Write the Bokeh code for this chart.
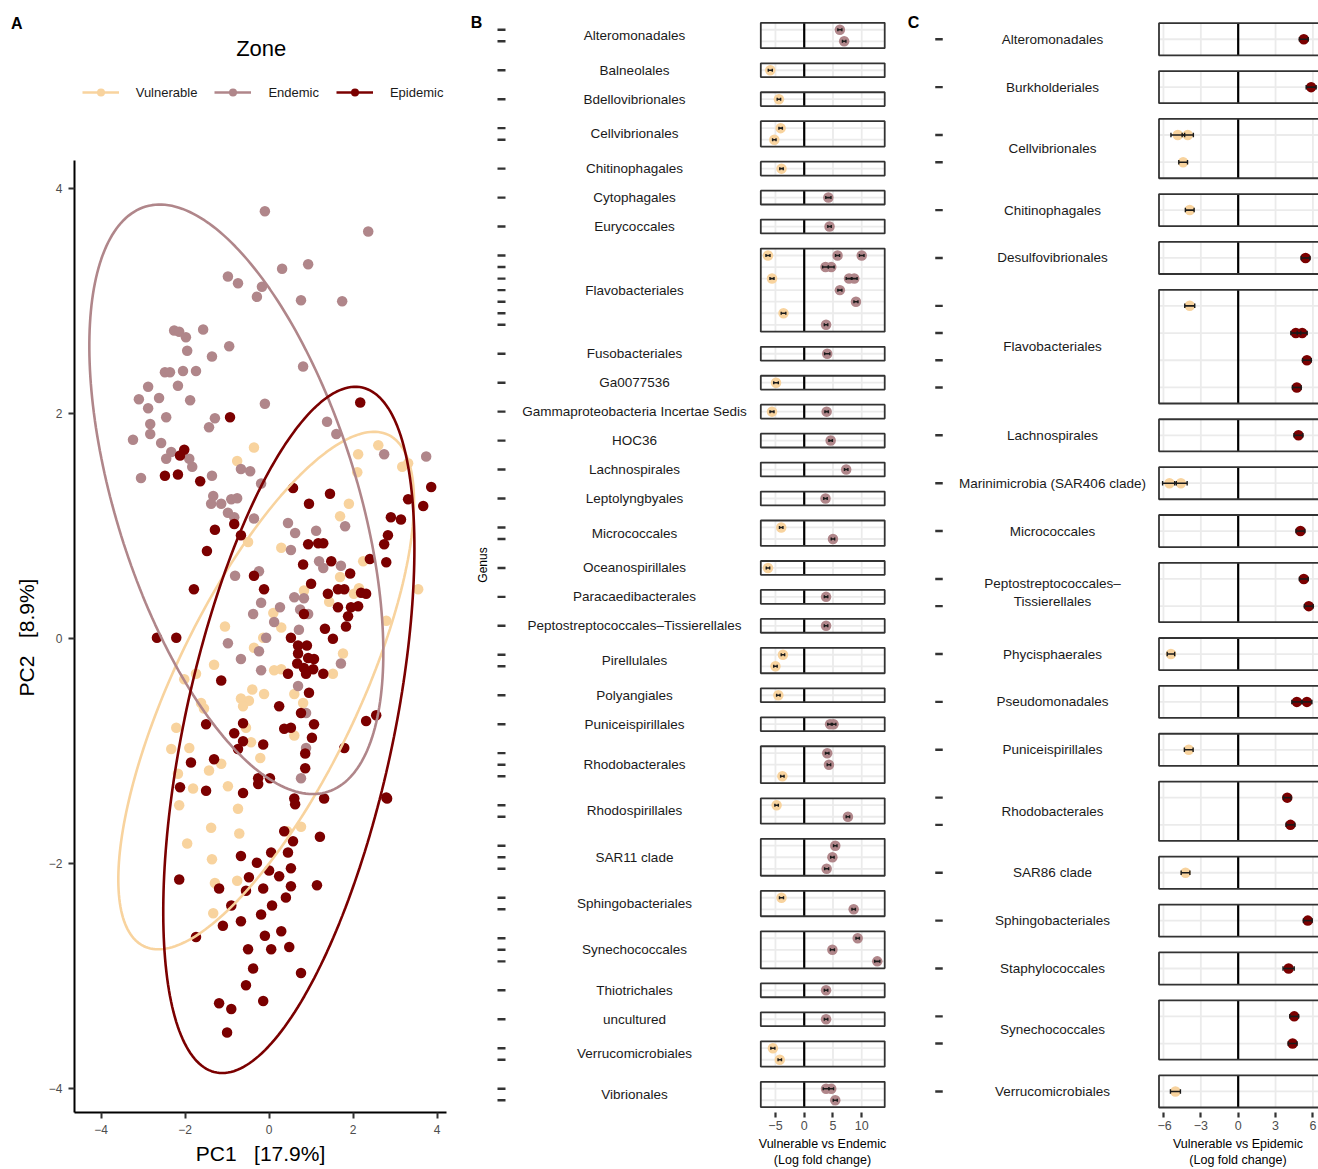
import numpy as np
from bokeh.plotting import figure
from bokeh.models import Range1d, FixedTicker, Label, Legend, LegendItem, ColumnDataSource
from bokeh.layouts import row
from bokeh.embed import file_html
from bokeh.resources import INLINE
from bokeh.core.properties import value

FONT = "Liberation Sans"
ZONES = ["Vulnerable", "Endemic", "Epidemic"]
ZONE_COLORS = {"Vulnerable": "#F8D39E", "Endemic": "#B0868A", "Epidemic": "#7B0000"}
NBSP3 = "\u00a0\u00a0\u00a0"

# ---------------- Panel A data (PCA scores) ----------------
vul_pc1 = [-0.36, -0.76, 2.12, 2.60, 2.10, 3.17, 3.31, 1.90, 1.69, -0.50, 0.29, 2.24, 1.69, 3.55, 2.14, 2.02,
           1.43, 0.83, 2.79, 0.10, 0.29, -1.05, -0.14, -0.36, 1.76, 1.52, -1.31, -2.02, -1.74, 0.12, 0.29,
           -0.40, -0.12, 0.60, -0.67, -0.48, -1.62, -1.55, -0.62, 0.81, -2.21, -0.55, 0.60, -2.33, -1.90,
           -0.43, -0.21, -1.14, -1.43, -2.17, -1.81, -0.98, -2.14, -1.38, -0.74, -0.71, -1.95, -1.36, -1.29,
           -0.76, -1.33, 0.43, 0.76]
vul_pc2 = [1.70, 1.58, 1.64, 1.72, 1.48, 1.53, 1.56, 1.20, 1.09, 0.86, 0.81, 0.69, 0.55, 0.44, 0.45, 0.40,
           0.33, 0.43, 0.16, 0.23, 0.10, 0.11, 0.01, -0.08, -0.13, -0.31, -0.23, -0.36, -0.31, -0.28, -0.27,
           -0.45, -0.49, -0.49, -0.53, -0.55, -0.57, -0.62, -0.60, -0.57, -0.79, -0.79, -0.86, -0.98, -0.97,
           -0.92, -1.06, -1.11, -1.17, -1.20, -1.33, -1.31, -1.48, -1.68, -1.51, -1.73, -1.82, -1.96, -2.17,
           -2.15, -2.44, -1.71, -1.67]

end_pc1 = [-0.10, 2.36, -0.98, 0.31, 0.93, -0.74, -0.17, -0.29, 0.76, 1.74, -2.26, -2.14, -1.57, -1.98,
           -1.95, -1.36, -0.95, -2.48, -2.36, -2.05, -1.74, 0.81, -2.88, -2.17, -3.10, -2.62, -1.88, -0.10,
           -2.88, -2.45, -1.29, -1.43, -2.83, -2.83, -3.24, -2.57, -2.33, -2.45, -1.90, -1.83, -3.05, -1.36,
           -0.67, -0.45, -0.19, -1.33, -1.38, -1.14, -0.90, -0.76, -0.98, -0.83, -0.36, 1.38, 1.60, 2.74,
           3.74, 1.81, 0.45, 0.62, 1.12, 0.52, 1.19, 1.29, 1.71, -0.24, -0.81, -0.19, -0.38, 0.26, 0.12,
           0.60, 0.83, 0.74, 0.93, 0.71, -0.07, -0.98, -0.24, -0.67, -0.19, 1.71, 0.69, 0.88, 0.88, 0.76]
end_pc2 = [3.80, 3.62, 3.22, 3.29, 3.33, 3.16, 3.13, 3.04, 3.01, 3.00, 2.74, 2.73, 2.75, 2.68, 2.56, 2.51,
           2.60, 2.37, 2.37, 2.38, 2.38, 2.42, 2.24, 2.25, 2.13, 2.14, 2.12, 2.09, 2.05, 1.97, 1.96, 1.88,
           1.91, 1.82, 1.77, 1.74, 1.66, 1.60, 1.60, 1.53, 1.43, 1.45, 1.51, 1.49, 1.38, 1.27, 1.20, 1.20,
           1.24, 1.25, 1.12, 1.08, 1.07, 1.93, 1.82, 1.64, 1.62, 1.00, 1.03, 0.94, 0.96, 0.79, 0.69, 0.63,
           0.65, 0.60, 0.56, 0.32, 0.22, 0.28, 0.15, 0.37, 0.36, 0.26, 0.22, 0.08, 0.01, -0.04, -0.11, -0.18,
           -0.28, -0.22, -0.42, -0.66, -0.97, -1.24]

epi_pc1 = [2.17, -0.93, -2.02, -2.12, -2.48, -2.17, -1.64, 0.57, 1.45, 0.95, 3.86, 3.31, 3.67, 2.90, 3.14,
           -1.29, -0.83, -0.67, -1.48, 0.93, 1.17, 1.29, 2.83, 2.74, 2.79, 2.40, 0.81, 1.48, -0.36, -0.12,
           1.00, 1.93, -1.79, 1.40, 1.64, 1.79, 2.19, 2.31, 1.64, 1.95, 2.12, 1.88, 1.83, 0.83, 1.33, 1.52,
           0.52, 0.69, 0.90, 0.69, 0.93, 1.07, 0.67, 0.83, 1.05, 0.45, 0.88, 1.29, -2.67, -2.21, -1.14, 0.95,
           0.24, 0.76, 1.07, 2.31, 2.55, -1.50, -0.62, 0.36, 0.52, 1.02, -0.83, -0.62, -0.14, -0.74, 1.79,
           0.86, 0.86, -1.31, -1.86, -0.26, 0.02, -0.26, -2.12, -1.50, -0.62, 0.60, 1.31, 2.79,
           0.62, 0.36, 1.21, 0.57, -0.67, 0.05, 0.45, -0.29, -0.48, 0.00, 0.24, 0.52, -0.55, -0.14, 0.52,
           1.14, -2.14, -1.19, -0.90, 0.07, 0.40, -0.19, -1.10, -0.67, -0.10, 0.29, 0.48, -0.50, 0.05, -0.38,
           0.76, -0.55, -1.19, -0.90, -0.14, -1.00, -1.74, 2.81]
epi_pc2 = [2.10, 1.97, 1.68, 1.63, 1.45, 1.46, 1.40, 1.34, 1.29, 1.20, 1.35, 1.24, 1.18, 1.08, 1.06,
           0.97, 1.02, 0.92, 0.78, 0.84, 0.85, 0.85, 0.92, 0.84, 0.68, 0.71, 0.66, 0.69, 0.56, 0.44,
           0.49, 0.58, 0.44, 0.40, 0.44, 0.44, 0.41, 0.40, 0.28, 0.28, 0.29, 0.20, 0.11, 0.22, 0.09, 0.00,
           0.01, -0.06, -0.06, -0.13, -0.17, -0.18, -0.22, -0.26, -0.27, -0.31, -0.31, -0.31, 0.01, 0.01,
           -0.37, -0.48, -0.60, -0.66, -0.76, -0.73, -0.68, -0.76, -0.75, -0.80, -0.79, -0.88, -0.84, -0.91,
           -0.94, -0.98, -0.97, -1.02, -1.15, -1.07, -1.10, -1.24, -1.24, -1.29, -1.32, -1.35, -1.37, -1.42,
           -1.42, -1.41, -1.47, -1.71, -1.76, -1.80, -1.93, -1.90, -1.90, -1.99, -2.12, -2.06, -2.11, -2.04,
           -2.24, -2.22, -2.20, -2.19, -2.14, -2.22, -2.37, -2.37, -2.30, -2.45, -2.55, -2.51, -2.64, -2.60,
           -2.74, -2.76, -2.76, -2.93, -2.97, -3.08, -3.24, -3.29, -3.22, -3.50, -2.65, -1.42]

# 95% ellipses: centre, spread along PC1 / PC2, correlation
ell_cx = {"Vulnerable": -0.07, "Endemic": -0.78, "Epidemic": 0.47}
ell_cy = {"Vulnerable": -0.46, "Endemic": 1.24, "Epidemic": -0.81}
ell_sx = {"Vulnerable": 3.52, "Endemic": 3.50, "Epidemic": 2.99}
ell_sy = {"Vulnerable": 2.30, "Endemic": 2.62, "Epidemic": 3.05}
ell_r = {"Vulnerable": 0.73, "Endemic": -0.52, "Epidemic": 0.53}

pca_ticks = [-4, -2, 0, 2, 4]

# ---------------- Panel B data (Vulnerable vs Endemic) ----------------
B_orders = ["Alteromonadales", "Balneolales", "Bdellovibrionales", "Cellvibrionales", "Chitinophagales",
            "Cytophagales", "Eurycoccales", "Flavobacteriales", "Fusobacteriales", "Ga0077536",
            "Gammaproteobacteria Incertae Sedis", "HOC36", "Lachnospirales", "Leptolyngbyales",
            "Micrococcales", "Oceanospirillales", "Paracaedibacterales", "Peptostreptococcales\u2013Tissierellales",
            "Pirellulales", "Polyangiales", "Puniceispirillales", "Rhodobacterales", "Rhodospirillales",
            "SAR11 clade", "Sphingobacteriales", "Synechococcales", "Thiotrichales", "uncultured",
            "Verrucomicrobiales", "Vibrionales"]
B_nrows = [2, 1, 1, 2, 1, 1, 1, 7, 1, 1, 1, 1, 1, 1, 2, 1, 1, 1, 2, 1, 1, 3, 2, 3, 2, 3, 1, 1, 2, 2]
B_facet = [0, 0, 1, 2, 3, 3, 4, 5, 6,
           7, 7, 7, 7, 7, 7, 7, 7, 7, 7, 7, 7,
           8, 9, 10, 10, 11, 12, 13, 14, 14, 15, 16, 17, 18, 18, 19, 20, 20,
           21, 21, 21, 22, 22, 23, 23, 23, 24, 24, 25, 25, 25, 26, 27, 28, 28, 29, 29, 29]
B_row = [0, 1, 0, 0, 0, 1, 0, 0, 0,
         0, 0, 0, 1, 1, 2, 2, 2, 3, 4, 5, 6,
         0, 0, 0, 0, 0, 0, 0, 0, 1, 0, 0, 0, 0, 1, 0, 0, 0,
         0, 1, 2, 0, 1, 0, 1, 2, 0, 1, 0, 1, 2, 0, 0, 0, 1, 0, 0, 1]
B_lfc = [6.2, 6.95, -5.9, -4.4, -4.1, -5.2, -3.95, 4.2, 4.4,
         -6.3, 5.8, 10.0, 3.7, 4.7, -5.6, 7.8, 8.7, 6.2, 9.0, -3.6, 3.8,
         4.0, -4.9, -5.6, 3.9, 4.6, 7.3, 3.7, -4.0, 5.0, -6.3, 3.8, 3.8, -3.7, -5.0, -4.5, 4.5, 5.1,
         4.0, 4.3, -3.8, -4.8, 7.6, 5.4, 4.9, 3.9, -3.95, 8.6, 9.3, 4.9, 12.7, 3.8, 3.8, -5.45, -4.25,
         3.8, 4.7, 5.4]
B_se = [0.35, 0.3, 0.35, 0.3, 0.3, 0.3, 0.3, 0.45, 0.3,
        0.35, 0.35, 0.4, 0.5, 0.5, 0.35, 0.5, 0.5, 0.35, 0.35, 0.4, 0.3,
        0.45, 0.4, 0.35, 0.3, 0.3, 0.3, 0.3, 0.3, 0.3, 0.3, 0.3, 0.3, 0.3, 0.3, 0.3, 0.4, 0.4,
        0.3, 0.3, 0.3, 0.3, 0.3, 0.3, 0.3, 0.35, 0.35, 0.3, 0.3, 0.35, 0.45, 0.3, 0.3, 0.35, 0.3,
        0.5, 0.4, 0.35]
B_zone = ["Endemic", "Endemic", "Vulnerable", "Vulnerable", "Vulnerable", "Vulnerable", "Vulnerable",
          "Endemic", "Endemic",
          "Vulnerable", "Endemic", "Endemic", "Endemic", "Endemic", "Vulnerable", "Endemic", "Endemic",
          "Endemic", "Endemic", "Vulnerable", "Endemic",
          "Endemic", "Vulnerable", "Vulnerable", "Endemic", "Endemic", "Endemic", "Endemic", "Vulnerable",
          "Endemic", "Vulnerable", "Endemic", "Endemic", "Vulnerable", "Vulnerable", "Vulnerable",
          "Endemic", "Endemic",
          "Endemic", "Endemic", "Vulnerable", "Vulnerable", "Endemic", "Endemic", "Endemic", "Endemic",
          "Vulnerable", "Endemic", "Endemic", "Endemic", "Endemic", "Endemic", "Endemic", "Vulnerable",
          "Vulnerable", "Endemic", "Endemic", "Endemic"]
B_ticks = [-5, 0, 5, 10]
B_xlim = (-7.55, 14.0)

# ---------------- Panel C data (Vulnerable vs Epidemic) ----------------
C_orders = ["Alteromonadales", "Burkholderiales", "Cellvibrionales", "Chitinophagales", "Desulfovibrionales",
            "Flavobacteriales", "Lachnospirales", "Marinimicrobia (SAR406 clade)", "Micrococcales",
            "Peptostreptococcales\u2013\nTissierellales", "Phycisphaerales", "Pseudomonadales",
            "Puniceispirillales", "Rhodobacterales", "SAR86 clade", "Sphingobacteriales", "Staphylococcales",
            "Synechococcales", "Verrucomicrobiales"]
C_nrows = [1, 1, 2, 1, 1, 4, 1, 1, 1, 2, 1, 1, 1, 2, 1, 1, 1, 2, 1]
C_facet = [0, 1, 2, 2, 2, 3, 4, 5, 5, 5, 5, 5, 6, 7, 7, 8, 9, 9, 10, 11, 11, 12, 13, 13, 14, 15, 16,
           17, 17, 18]
C_row = [0, 0, 0, 0, 1, 0, 0, 0, 1, 1, 2, 3, 0, 0, 0, 0, 0, 1, 0, 0, 0, 0, 0, 1, 0, 0, 0, 0, 1, 0]
C_lfc = [5.27, 5.86, -4.85, -4.05, -4.42, -3.89, 5.41, -3.89, 4.63, 5.14, 5.52, 4.71, 4.84, -5.52, -4.6,
         5.0, 5.27, 5.67, -5.4, 4.71, 5.52, -3.97, 3.94, 4.2, -4.23, 5.59, 4.05, 4.5, 4.37, -5.04]
C_se = [0.35, 0.4, 0.55, 0.45, 0.35, 0.35, 0.35, 0.4, 0.4, 0.4, 0.35, 0.35, 0.35, 0.55, 0.5,
        0.35, 0.35, 0.35, 0.3, 0.4, 0.4, 0.35, 0.3, 0.35, 0.35, 0.35, 0.45, 0.35, 0.35, 0.4]
C_zone = ["Epidemic", "Epidemic", "Vulnerable", "Vulnerable", "Vulnerable", "Vulnerable", "Epidemic",
          "Vulnerable", "Epidemic", "Epidemic", "Epidemic", "Epidemic", "Epidemic", "Vulnerable",
          "Vulnerable", "Epidemic", "Epidemic", "Epidemic", "Vulnerable", "Epidemic", "Epidemic",
          "Vulnerable", "Epidemic", "Epidemic", "Vulnerable", "Epidemic", "Epidemic", "Epidemic",
          "Epidemic", "Vulnerable"]
C_ticks = [-6, -3, 0, 3, 6]
C_xlim = (-6.36, 7.5)

MINUS = "\u2212"
FRAME_H = 1112      # common plotting-frame height (all figures share top/bottom borders)
BOTTOM = 57


def minus_labels(ticks):
    return {t: (MINUS + str(abs(t)) if t < 0 else str(t)) for t in ticks}


def bare(p):
    p.grid.visible = False
    p.outline_line_color = None
    return p


# ---------------- Panel A ----------------
# left strip holding the panel tag and the PC2 title
pA0 = bare(figure(frame_width=40, frame_height=FRAME_H, x_range=Range1d(0, 40), y_range=Range1d(FRAME_H, 0),
                  min_border_left=0, min_border_right=0, min_border_top=0, min_border_bottom=BOTTOM,
                  x_axis_location=None, y_axis_location=None, output_backend="svg", toolbar_location=None))
pA0.text(x=[16.3], y=[22.7], text=["A"], text_font=value(FONT), text_font_size="16px",
         text_font_style="bold", text_align="center", text_baseline="middle", text_color="black")
pA0.text(x=[26], y=[637], text=["PC2" + NBSP3 + "[8.9%]"], angle=np.pi / 2, text_font=value(FONT),
         text_font_size="21px", text_align="center", text_baseline="middle", text_color="black")

y_top = 638.3 / 112.5
pA = bare(figure(frame_width=372, frame_height=FRAME_H, x_range=Range1d(-4.633, 4.224),
                 y_range=Range1d(y_top - FRAME_H / 112.5, y_top), min_border_left=34, min_border_right=20,
                 min_border_top=0, min_border_bottom=BOTTOM, output_backend="svg", toolbar_location=None))

pts = {"Vulnerable": (vul_pc1, vul_pc2), "Endemic": (end_pc1, end_pc2), "Epidemic": (epi_pc1, epi_pc2)}
scat_r, line_r = {}, {}
for z in ZONES:
    scat_r[z] = pA.scatter(pts[z][0], pts[z][1], size=10.5, fill_color=ZONE_COLORS[z], line_color=None)
t = np.linspace(0, 2 * np.pi, 240)
for z in ZONES:
    ex = ell_cx[z] + ell_sx[z] * np.cos(t)
    ey = ell_cy[z] + ell_sy[z] * (ell_r[z] * np.cos(t) + np.sqrt(1 - ell_r[z] ** 2) * np.sin(t))
    line_r[z] = pA.line(ex, ey, line_color=ZONE_COLORS[z], line_width=2.6)

for ax in (pA.xaxis[0], pA.yaxis[0]):
    ax.ticker = FixedTicker(ticks=pca_ticks)
    ax.major_label_overrides = minus_labels(pca_ticks)
    ax.axis_line_width = 2
    ax.axis_line_color = "black"
    ax.major_tick_line_width = 2
    ax.major_tick_line_color = "#333333"
    ax.major_tick_out = 6
    ax.major_tick_in = 0
    ax.minor_tick_out = 0
    ax.minor_tick_in = 0
    ax.major_label_text_font = FONT
    ax.major_label_text_font_size = "12px"
    ax.major_label_text_color = "#4D4D4D"
    ax.major_label_standoff = 6
pA.yaxis[0].bounds = (y_top - FRAME_H / 112.5, 4.252)
pA.xaxis.axis_label = "PC1" + NBSP3 + "[17.9%]"
pA.xaxis.axis_label_text_font = FONT
pA.xaxis.axis_label_text_font_size = "21px"
pA.xaxis.axis_label_text_font_style = "normal"
pA.xaxis.axis_label_text_color = "black"
pA.xaxis.axis_label_standoff = 5

legend = Legend(items=[LegendItem(label=z, renderers=[line_r[z], scat_r[z]]) for z in ZONES],
                orientation="horizontal", location=(7.7, FRAME_H - 102), glyph_width=37, glyph_height=20,
                label_standoff=17, spacing=17, padding=0, margin=0, border_line_color=None,
                background_fill_alpha=0, label_text_font=FONT, label_text_font_size="13px",
                label_text_color="#1A1A1A")
pA.add_layout(legend)
pA.add_layout(Label(x=186.7, y=FRAME_H - 47.5, x_units="screen", y_units="screen", text="Zone",
                    text_font=FONT, text_font_size="22px", text_align="center", text_baseline="middle",
                    text_color="black"))


# ---------------- facet helpers ----------------
def layout_facets(nrows, expand, gap):
    tops, bots, rows = [], [], []
    y = 0.0
    for n in nrows:
        tops.append(y)
        rows.append([y + expand + i for i in range(n)])
        b = y + (n - 1) + 2 * expand
        bots.append(b)
        y = b + gap
    return tops, bots, rows, bots[-1]


def facet_range(total, first_px, last_px):
    u = (last_px - first_px) / total
    return Range1d(total + (FRAME_H - last_px) / u, -first_px / u)


def label_fig(names, tops, bots, rows, yr, x0, x1, label_x, tick_x, tick_len, tag, tag_x, ylab, ylab_x):
    p = bare(figure(frame_width=x1 - x0, frame_height=FRAME_H, x_range=Range1d(x0, x1), y_range=yr,
                    min_border_left=0, min_border_right=0, min_border_top=0, min_border_bottom=BOTTOM,
                    x_axis_location=None, y_axis_location=None, output_backend="svg", toolbar_location=None))
    centers = [(a + b) / 2 for a, b in zip(tops, bots)]
    p.text(x=[label_x] * len(names), y=centers, text=names, text_align="center", text_baseline="middle",
           text_font=value(FONT), text_font_size="13.5px", text_color="#1A1A1A", text_line_height=1.15)
    ry = [y for rr in rows for y in rr]
    p.scatter(x=[tick_x] * len(ry), y=ry, marker="dash", size=tick_len, line_color="#333333", line_width=2.4)
    px_per_u = FRAME_H / abs(yr.start - yr.end)
    tag_y = yr.end + 21.7 / px_per_u
    p.text(x=[tag_x], y=[tag_y], text=[tag], text_font=value(FONT), text_font_size="16px",
           text_font_style="bold", text_align="center", text_baseline="middle", text_color="black")
    if ylab:
        p.text(x=[ylab_x], y=[(tops[0] + bots[-1]) / 2], text=[ylab], angle=np.pi / 2, text_font=value(FONT),
               text_font_size="12px", text_align="center", text_baseline="middle", text_color="black")
    return p


def data_fig(yr, tops, bots, rows, xlim, xr, ticks, frame_w, right_border, facet, rowi, lfc, se, zone,
             xlab, cap):
    p = bare(figure(frame_width=frame_w, frame_height=FRAME_H, x_range=Range1d(*xr), y_range=yr,
                    min_border_left=0, min_border_right=right_border, min_border_top=0,
                    min_border_bottom=BOTTOM, y_axis_location=None, output_backend="svg",
                    toolbar_location=None))
    hy = [y for rr in rows for y in rr]
    p.segment(x0=[xlim[0]] * len(hy), x1=[xlim[1]] * len(hy), y0=hy, y1=hy, line_color="#EBEBEB",
              line_width=1.8)
    vx, vt, vb = [], [], []
    for a, b in zip(tops, bots):
        for tk in ticks:
            if tk != 0:
                vx.append(tk); vt.append(a); vb.append(b)
    p.segment(x0=vx, x1=vx, y0=vt, y1=vb, line_color="#EBEBEB", line_width=1.8)
    p.segment(x0=[0] * len(tops), x1=[0] * len(tops), y0=tops, y1=bots, line_color="black", line_width=2.2)
    ys = [rows[f][r] for f, r in zip(facet, rowi)]
    src = ColumnDataSource(dict(x=lfc, y=ys, lo=[v - s for v, s in zip(lfc, se)],
                                hi=[v + s for v, s in zip(lfc, se)],
                                c=[ZONE_COLORS[z] for z in zone]))
    p.scatter("x", "y", source=src, size=10.5, fill_color="c", line_color=None)
    p.segment(x0="lo", x1="hi", y0="y", y1="y", source=src, line_color="#1A1A1A", line_width=1.6)
    p.scatter("lo", "y", source=src, marker="dash", angle=np.pi / 2, size=cap, line_color="#1A1A1A",
              line_width=1.4)
    p.scatter("hi", "y", source=src, marker="dash", angle=np.pi / 2, size=cap, line_color="#1A1A1A",
              line_width=1.4)
    p.quad(left=[xlim[0]] * len(tops), right=[xlim[1]] * len(tops), top=tops, bottom=bots,
           fill_color=None, line_color="#333333", line_width=1.8)
    ax = p.xaxis[0]
    ax.ticker = FixedTicker(ticks=ticks)
    ax.major_label_overrides = minus_labels(ticks)
    ax.axis_line_color = None
    ax.major_tick_line_color = "#333333"
    ax.major_tick_line_width = 2.2
    ax.major_tick_out = 5
    ax.major_tick_in = 0
    ax.minor_tick_out = 0
    ax.minor_tick_in = 0
    ax.major_label_text_font = FONT
    ax.major_label_text_font_size = "12.5px"
    ax.major_label_text_color = "#4D4D4D"
    ax.major_label_standoff = 3
    ax.axis_label = xlab
    ax.axis_label_text_font = FONT
    ax.axis_label_text_font_size = "12.5px"
    ax.axis_label_text_font_style = "normal"
    ax.axis_label_text_color = "black"
    ax.axis_label_standoff = 4
    return p


# ---------------- Panel B ----------------
bt, bb, br, btot = layout_facets(B_nrows, 0.6, 1.3065)
yrB = facet_range(btot, 22.3, 1106.7)
pBL = label_fig(B_orders, bt, bb, br, yrB, 466, 758, 634, 501, 8, "B", 476, "Genus", 482)
pBR = data_fig(yrB, bt, bb, br, B_xlim, (-7.95, 14.31), B_ticks, 128, 14, B_facet, B_row, B_lfc, B_se,
               B_zone, "Vulnerable vs Endemic\n(Log fold change)", 3)

# ---------------- Panel C ----------------
ct, cb, cr, ctot = layout_facets(C_nrows, 0.59, 0.58)
yrC = facet_range(ctot, 22.7, 1107.0)
pCL = label_fig(C_orders, ct, cb, cr, yrC, 900, 1157, 1052, 938.5, 7.5, "C", 913, "", 0)
pCR = data_fig(yrC, ct, cb, cr, C_xlim, (-6.48, 6.45), C_ticks, 161, 0, C_facet, C_row, C_lfc, C_se,
               C_zone, "Vulnerable vs Epidemic\n(Log fold change)", 4.5)

layout = row(pA0, pA, pBL, pBR, pCL, pCR, spacing=0)
open("out.html", "w").write(file_html(layout, INLINE))
